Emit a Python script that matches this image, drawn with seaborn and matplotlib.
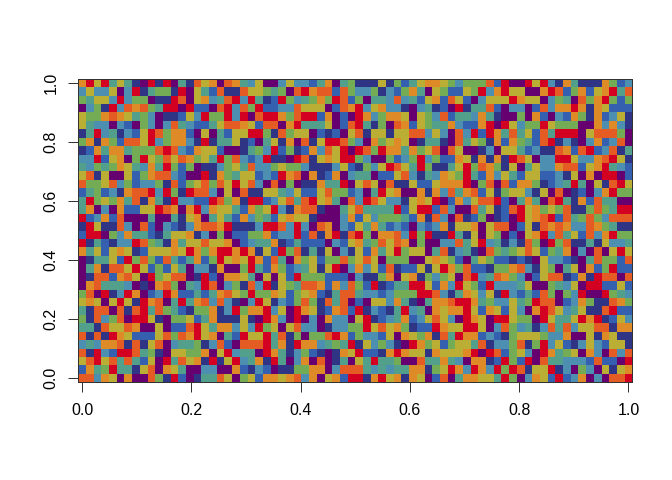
import numpy as np
import matplotlib
matplotlib.use("Agg")
import matplotlib.pyplot as plt
from matplotlib.colors import ListedColormap
import seaborn as sns

# palette letters: one code per colour class
codes = list("rebdptglyo")
colors = ["#D40022", "#E45B24", "#3560B0", "#2F3485", "#660070",
          "#4C8FB0", "#52A08B", "#74AC55", "#BBAE35", "#DE8A26"]
tick_values = [0.0, 0.2, 0.4, 0.6, 0.8, 1.0]
tick_labels = ["0.0", "0.2", "0.4", "0.6", "0.8", "1.0"]

top_left = ["oryrgygdprdrpgdeyopeogty","tyttyptrdglldrpygbeddeyy","lgyytrtllpddrepyotgertrg","ptldrteoelgrrprbbpertelr",
"ylloeoygltpddbytrllrtrpe","ygttptbpltptegtbbgyeeoyb","dgrtgdtbyreloobpypgbyyrr","lodolbeeyrtlootdrdggydbp",
"dbogoogllleretboyybppdgl","ttrbyoplryleyeolygrletbt","gtlgloygtogrlblpddtlyget","yedyppybloeetbpprdolgyyb"]
top_mid = ["pptyttbgopgldddydlbgyooy","lglperoeebelttldtblogpyl","dbrltglolreblpggtetgbyob","bbtteyyypbeortyottdptgdb",
"rrolerrbopbprotlooypylte","eeporgggypbergdlpeobylgg","ldelyypbdbpyedyydyyeetyt","gydopedyrreltpolyoypdggd",
"trbldboteyrprelroogolyep","rddpredyoyrrltpplbtlrtlb","tlylltdddtybdltyreygrldd","tbroepodboptggpbbyetdgto"]
top_right = ["ltlllebrppryrtdogdddolbt","bbylrtoryypporeblobyorge","eybptyyyroyyptlgpelorlbl","prdggebpttpbetoorodoybbb",
"bggtogdpplpobptboldobtyd","otbborprytllrylllppototd","petrbrogegybegrrrpyeeelp","pegyldobolgberdtdptobtep",
"eyppdtpyygbtddeoberbtedg","boydododreypttrryttoeryd","gyrleoldypgyttoeebyorgtb","ylrgbotygbyybbtdypoprrpb"]
mid_left = ["ellyetlbttldeblyeleyryet","bglbtdoeertrldreetpypedd","grlylogedogdrttbbrelodrr","goptpobbyyreoportoyygbol",
"rbtobepppgppgdyopgygbotl","dryddetpebptbdtoeeordddt","brrpltoggbdgyyodtplpbbll","rdgbdttrelgdogyyeyyopbtg",
"ogybyoydbyyyoyrolorrorod","pdggybrlelbegbgoblryoyro","pgodeeyryblbygpttdopplrg","pdeeboeyprlyeepdrbpooygp"]
mid_mid = ["peplpddoggrpyeypeddybbyo","yygtybbyellbtpgryoppodot","btyegeryogpetreyttdyoyrp","yrtdoeedppgyeggggrbyrrbe",
"gbyoyydppptobytlllgbodet","rretrtpeoptbygogbtbptbto","obttrbedorderlpooetrlrdd","godbgbbbptbyogleyeoplppt",
"ybrledgdyptdybogyrlyypge","begpolybllelyeyplllppyoy","bolbtgydyrptotybedbbydyr","ypybrlllbbbptddlopyodltl"]
mid_right = ["oorplepebooldbtgrgpydery","egoebydlyytdypepdbptorll","botyeerbpgogpergdobeggpp","tppegydberyolyleddlelgrr",
"pedblpdbpryoerbeglelteee","dyyopyeepbydeoeotteolgdd","rgdypylpbpyortegybetorll","tegyrtgdtdelprleddgdyttg",
"dtgdpelglyeyblgoptpepyry","lbpgylbbdbdpyttbdpgellbe","olebbdlloetdylpgypoblrbb","ypertgeoltpbyeedbodreepe"]
low_left = ["poegggtpdpoelpgtreptldet","leprdtropbtrobbgbgoeylrl","yoypyrydroepgrgoetetdptr","gdeepedergelgbdllodtrloo",
"ldetleprrydpllybgodddydp","ggdeyyeoppypbberygootytr","ededroybbbyeleoryopgbryy","tgtooededyeptggldtebpeee",
"edrtbrregldpyyllopyrtggp","yeryegegbyprgeyodrdyrtgo","boglrggdyepoygppttppobdt","eetoypoppeldrbpdggeyplyb"]
low_mid = ["rdylgeeobotelbrdbggrrybo","loyblyobdgeegttbtlllrret","ydtbleldegepbpyytogdpgoo","rtyproydboebrdtbdgrtgpoy",
"rotprptpottpyrdbtgobtyey","lypyettpdttllryeyoldbbro","rgedlplleroblttbypoylode","rgodrootglgrdytltdprolyb",
"rogdtlbdpdoyrbbdoroyydoy","drgptopepdgpygrgglppeggo","bpddlloopteeegtgtggoodly","ooyoetopyobrrdoryodoypbe"]
low_right = ["trylbrtttgypplgtyprrbbyb","dgoytydrtbgbelpltrpprlgt","erroglttyglreepbtolddeol","ooryboybytporeytgydderbb",
"tproyprryllpryggyrordbyt","yyrrypteltgdtegetyyeedoo","groobtbdlyyylttoppydoydd","lyygedttledlrtybdtytbyyd",
"yyorpreblytproglypotpete","gtpoodbrlbrpeggtttbebbpr","rotrotrlredyyrdtpltpydyo","pgooyygrlptoybrbtoptpeer"]

blocks = [(top_left, top_mid, top_right), (mid_left, mid_mid, mid_right), (low_left, low_mid, low_right)]
rows = [a + b + c for blk in blocks for a, b, c in zip(*blk)]
matrix = np.array([[codes.index(ch) for ch in row] for row in rows])

plt.rcParams["font.family"] = ["Liberation Sans", "DejaVu Sans"]
W, H = 672, 480
fig = plt.figure(figsize=(W / 72, H / 72), dpi=72)
ax = fig.add_axes([78.3 / W, 1 - 382.3 / H, (632.3 - 78.3) / W, (382.3 - 78.7) / H])
sns.heatmap(matrix, ax=ax, cmap=ListedColormap(colors), vmin=-0.5, vmax=9.5,
            cbar=False, xticklabels=False, yticklabels=False, linewidths=0)

ncol, nrow = matrix.shape[1], matrix.shape[0]
ax.set_xticks([0.5 + v * (ncol - 1) for v in tick_values], tick_labels)
ax.set_yticks([nrow - 0.5 - v * (nrow - 1) for v in tick_values], tick_labels,
              rotation=90, va="center")
ax.tick_params(axis="both", length=10, width=1, color="#333333", labelsize=16, labelcolor="black")
ax.tick_params(axis="x", pad=11)
ax.tick_params(axis="y", pad=10)
for s in ax.spines.values():
    s.set_visible(True)
    s.set_linewidth(1)
    s.set_color("#333333")
fig.savefig("out.png", dpi=72)
